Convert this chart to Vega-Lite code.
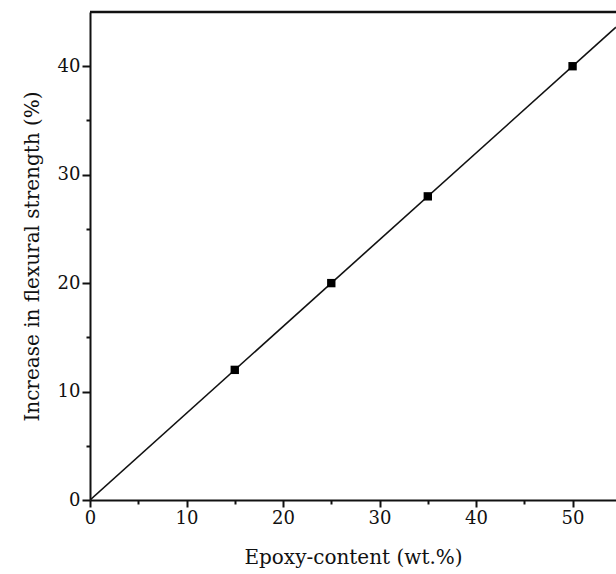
{
  "$schema": "https://vega.github.io/schema/vega-lite/v6.json",
  "autosize": {"type": "none"},
  "padding": {"left": 90, "top": 12, "right": 0, "bottom": 74},
  "width": 526,
  "height": 488,
  "background": "white",
  "config": {
    "view": {"stroke": null},
    "font": "DejaVu Serif",
    "axis": {
      "domainColor": "#111",
      "domainWidth": 2,
      "tickColor": "#111",
      "tickWidth": 2,
      "grid": false,
      "labelFont": "DejaVu Serif",
      "titleFont": "DejaVu Serif",
      "labelFontSize": 18,
      "titleFontSize": 20,
      "labelColor": "#111",
      "titleColor": "#111",
      "titleFontWeight": "normal"
    }
  },
  "datasets": {
    "points": [
      {"epoxy": 15, "increase": 12},
      {"epoxy": 25, "increase": 20},
      {"epoxy": 35, "increase": 28},
      {"epoxy": 50, "increase": 40}
    ],
    "fit": [
      {"epoxy": 0, "increase": 0},
      {"epoxy": 54.5, "increase": 43.6}
    ],
    "frame": [
      {"epoxy0": 0, "epoxy1": 54.5, "increase": 45}
    ]
  },
  "layer": [
    {
      "data": {"name": "fit"},
      "mark": {"type": "line", "color": "#111", "strokeWidth": 1.6, "clip": true},
      "encoding": {
        "x": {
          "field": "epoxy", "type": "quantitative",
          "scale": {"domain": [0, 54.5], "nice": false, "zero": false},
          "axis": {
            "title": "Epoxy-content (wt.%)",
            "values": [0, 5, 10, 15, 20, 25, 30, 35, 40, 45, 50],
            "labelExpr": "datum.value % 10 === 0 ? datum.label : ''",
            "tickSize": {"condition": {"test": "datum.value % 10 === 0", "value": 7}, "value": 4},
            "labelPadding": 2,
            "titlePadding": 20,
            "labelFlush": false
          }
        },
        "y": {
          "field": "increase", "type": "quantitative",
          "scale": {"domain": [0, 45], "nice": false, "zero": false},
          "axis": {
            "title": "Increase in flexural strength (%)",
            "values": [0, 5, 10, 15, 20, 25, 30, 35, 40],
            "labelExpr": "datum.value % 10 === 0 ? datum.label : ''",
            "tickSize": {"condition": {"test": "datum.value % 10 === 0", "value": 8}, "value": 4},
            "labelPadding": 2,
            "titlePadding": 15,
            "labelFlush": false
          }
        }
      }
    },
    {
      "data": {"name": "points"},
      "mark": {"type": "square", "color": "#000", "opacity": 1, "size": 70, "filled": true},
      "encoding": {
        "x": {"field": "epoxy", "type": "quantitative"},
        "y": {"field": "increase", "type": "quantitative"}
      }
    },
    {
      "data": {"name": "frame"},
      "mark": {"type": "rule", "color": "#111", "strokeWidth": 2.5},
      "encoding": {
        "x": {"field": "epoxy0", "type": "quantitative"},
        "x2": {"field": "epoxy1"},
        "y": {"field": "increase", "type": "quantitative"}
      }
    }
  ]
}
